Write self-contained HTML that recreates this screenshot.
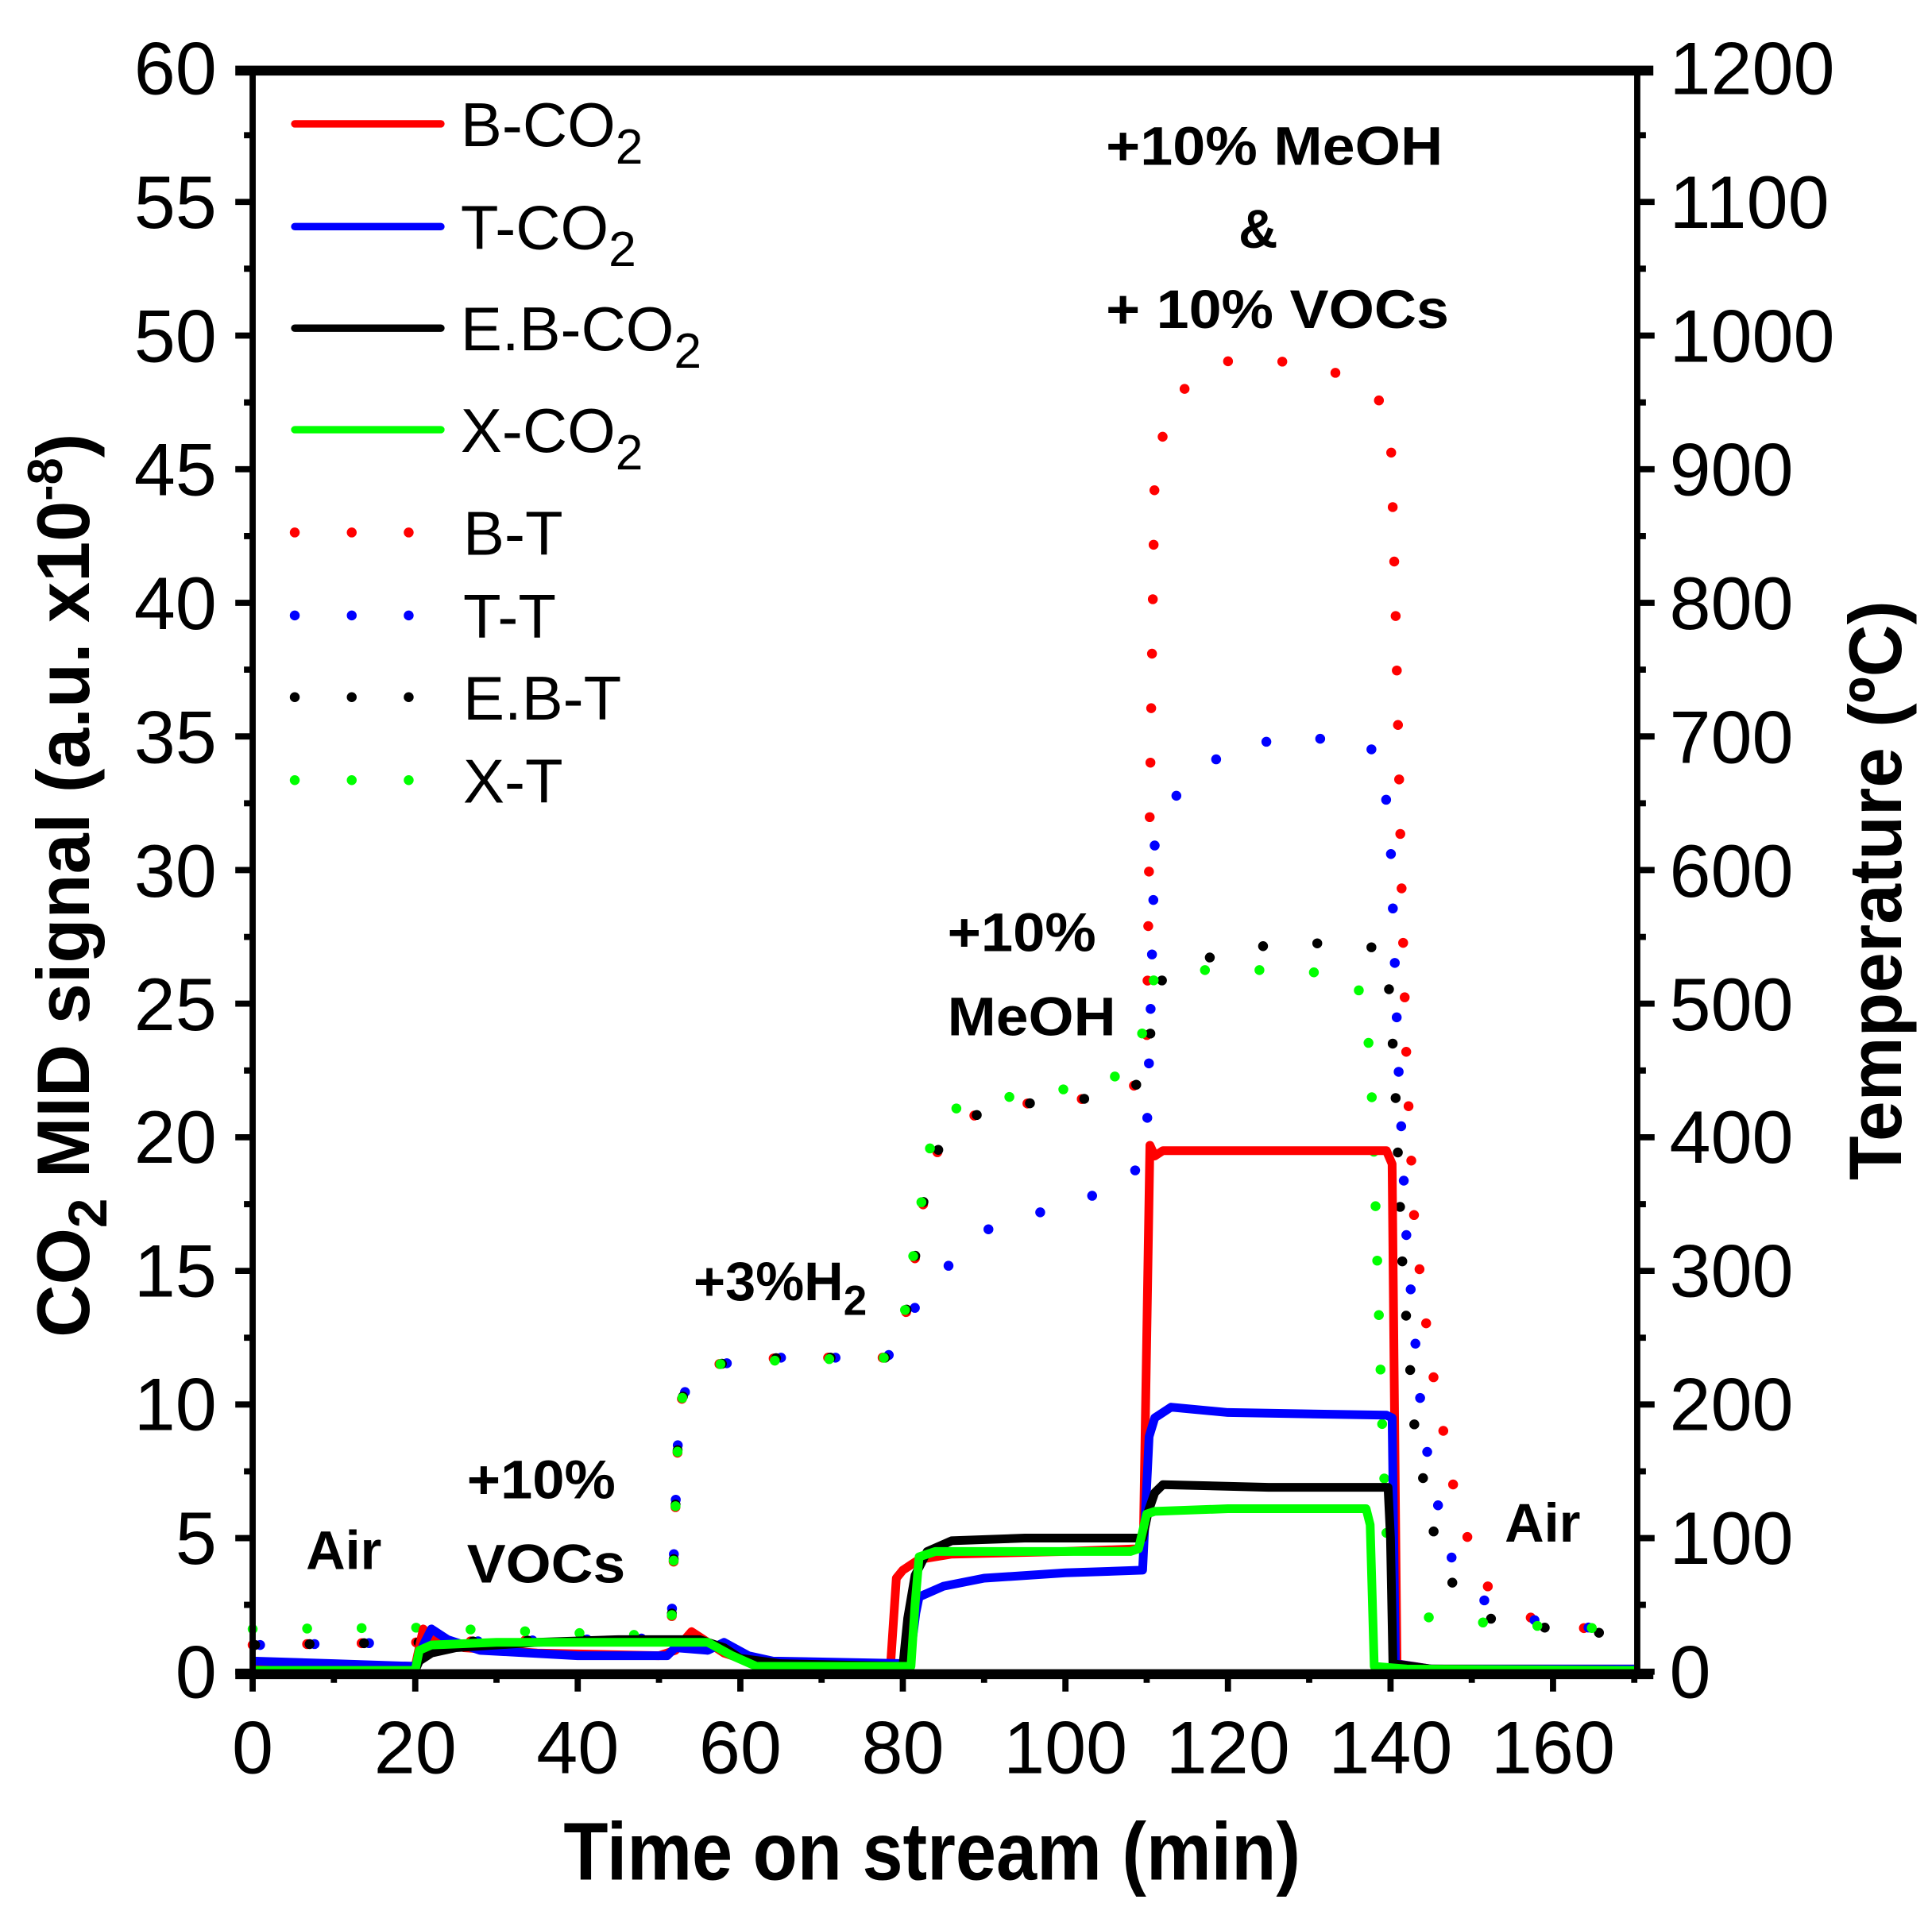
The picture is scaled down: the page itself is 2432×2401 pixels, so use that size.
<!DOCTYPE html>
<html><head><meta charset="utf-8"><style>html,body{margin:0;padding:0;background:#fff}svg{display:block}</style></head>
<body>
<svg xmlns="http://www.w3.org/2000/svg" width="2432" height="2401" viewBox="0 0 1560 1540" preserveAspectRatio="none" font-family="Liberation Sans, Arial, sans-serif">
<rect width="1560" height="1540" fill="#fff"/>
<!-- temperature dotted -->
<g fill="none" stroke-width="8" stroke-linecap="round" stroke-linejoin="round" stroke-dasharray="0 44">
<path stroke="#ff0000" d="M204,1328.4 L335.3,1326.3 L532.1,1323 L542,1317.6 L545.3,1220.5 L548.5,1134.2 L558.4,1112.6 L578.1,1101.8 L630.6,1096.4 L715.9,1096.4 L729,1074.8 L735.6,1037 L742.1,993.9 L748.7,950.7 L761.8,918.3 L781.5,902.1 L827.4,891.3 L893.1,885.9 L919.3,875.2 L925.9,842.8 L929.2,594.6 L932.4,378.7 L945.6,324.8 L978.4,292.4 L1024.3,290.2 L1070.3,297.8 L1109.6,314 L1122.8,346.3 L1126.7,486.6 L1131.3,702.5 L1135.9,864.4 L1142.4,993.9 L1155.6,1101.8 L1175.3,1209.7 L1194.9,1274.5 L1221.2,1301.4 L1254,1312.2 L1306.5,1317.6"/>
<path stroke="#0000ff" d="M210,1328.4 L335.3,1326.3 L532.1,1323 L542,1317.6 L545.3,1220.5 L548.5,1134.2 L558.4,1112.6 L578.1,1101.8 L630.6,1096.4 L715.9,1096.4 L729,1080.2 L742.1,1047.8 L761.8,1026.2 L794.6,993.9 L860.3,972.3 L912.8,956.1 L925.9,918.3 L929.2,810.4 L932.4,680.9 L952.1,637.7 L991.5,605.4 L1044,594.6 L1103.1,599.9 L1116.2,616 L1122.8,680.9 L1129.3,864.4 L1135.9,1004.7 L1149,1155.7 L1168.7,1252.9 L1194.9,1290.6 L1227.8,1306.8 L1306.5,1317.6"/>
<path stroke="#000000" d="M206,1328.4 L335.3,1326.3 L532.1,1323 L542,1317.6 L545.3,1220.5 L548.5,1134.2 L558.4,1112.6 L578.1,1101.8 L630.6,1096.4 L715.9,1096.4 L729,1074.8 L735.6,1037 L742.1,993.9 L748.7,950.7 L761.8,918.3 L781.5,902.1 L827.4,891.3 L893.1,885.9 L919.3,875.2 L925.9,859 L930.5,821.2 L939,788.8 L978.4,772.6 L1030.9,761.8 L1089.9,761.8 L1119.4,767.2 L1126,864.4 L1132.6,1026.2 L1142.4,1155.7 L1155.6,1231.3 L1175.3,1285.2 L1201.5,1306.8 L1254,1315.5 L1306.5,1319.8"/>
<path stroke="#00ff00" d="M204,1315.5 L335.3,1314.4 L532.1,1320.9 L542,1317.6 L545.3,1220.5 L548.5,1134.2 L558.4,1112.6 L578.1,1101.8 L630.6,1098.5 L715.9,1096.4 L729,1069.4 L735.6,1026.2 L742.1,983.1 L748.7,939.9 L755.3,902.1 L781.5,891.3 L827.4,883.8 L893.1,875.2 L919.3,853.6 L925.9,810.4 L932.4,788.8 L965.3,783.4 L1024.3,783.4 L1089.9,786.7 L1103.1,810.4 L1108.3,896.7 L1112.3,1026.2 L1116.2,1155.7 L1120.1,1252.9 L1126,1296 L1155.6,1306.8 L1221.2,1312.2 L1306.5,1315.5"/>
</g>
<!-- CO2 solid -->
<g transform="translate(204,1350) scale(6.5625,-21.58)" fill="none" stroke-width="11" stroke-linejoin="round">
<polyline vector-effect="non-scaling-stroke" stroke="#ff0000" points="0,0.3 20,0.2 21,1.6 22,1.2 26,0.9 35,0.7 50,0.6 52,0.8 54,1.5 56,1.1 58,0.7 62,0.3 78.5,0.3 79.2,3.5 80,3.8 82,4.2 86,4.4 100,4.5 109,4.6 109.6,5.0 110.4,19.7 111,19.3 112,19.5 139.5,19.5 140.2,19.0 140.8,0.3 145,0.1 170,0.1"/>
<polyline vector-effect="non-scaling-stroke" stroke="#0000ff" points="0,0.4 10,0.3 20,0.2 21,1.0 22,1.6 24,1.2 28,0.8 40,0.6 51,0.6 52,0.9 56,0.8 58,1.1 61,0.6 64,0.4 80.8,0.3 81.6,2.2 82,2.8 85,3.2 90,3.5 100,3.7 109.5,3.8 110.3,8.8 111,9.5 113,9.9 120,9.7 139.5,9.6 140.2,9.5 140.6,0.3 145,0.1 170,0.1"/>
<polyline vector-effect="non-scaling-stroke" stroke="#000000" points="0,0.05 20,0.05 20.5,0.4 22,0.7 25,0.9 35,1.1 45,1.2 55,1.2 58,0.9 60,0.5 65,0.3 80,0.2 80.6,2.0 81.5,3.6 83,4.5 86,4.9 95,5.0 109.5,5.0 110.2,6.0 111,6.7 112,7.0 125,6.9 139.7,6.9 140,5.0 140.3,0.3 145,0.1 170,0.05"/>
<polyline vector-effect="non-scaling-stroke" stroke="#00ff00" points="0,0.05 20,0.05 20.5,0.8 22,1.0 30,1.1 50,1.1 56,1.1 59,0.6 62,0.2 81,0.2 81.5,2.5 82,4.3 84,4.5 100,4.5 108,4.5 109,4.6 110,5.9 111,6.0 120,6.1 137,6.1 137.5,5.5 138,0.2 142,0.1 170,0.05"/>
</g>
<!-- axes -->
<g stroke="#000" fill="none">
<line x1="190" y1="57" x2="1335" y2="57" stroke-width="8"/>
<line x1="190" y1="1352" x2="1335" y2="1352" stroke-width="8"/>
<line x1="204" y1="55" x2="204" y2="1355" stroke-width="5"/>
<line x1="1322" y1="55" x2="1322" y2="1355" stroke-width="5"/>
</g>
<g stroke="#000" stroke-width="5" fill="none">
<path d="M204,1352V1366 M335.3,1352V1366 M466.5,1352V1366 M597.8,1352V1366 M729,1352V1366 M860.3,1352V1366 M991.5,1352V1366 M1122.8,1352V1366 M1254,1352V1366 M269.6,1352V1359 M400.9,1352V1359 M532.1,1352V1359 M663.4,1352V1359 M794.6,1352V1359 M925.9,1352V1359 M1057.1,1352V1359 M1188.4,1352V1359 M1319.6,1352V1359"/>
<path d="M190,1350H204 M190,1242.1H204 M190,1134.2H204 M190,1026.3H204 M190,918.4H204 M190,810.5H204 M190,702.6H204 M190,594.7H204 M190,486.8H204 M190,378.9H204 M190,271H204 M190,163.1H204 M197,1296H204 M197,1188.2H204 M197,1080.3H204 M197,972.4H204 M197,864.5H204 M197,756.6H204 M197,648.7H204 M197,540.8H204 M197,432.9H204 M197,325H204 M197,217H204 M197,109.2H204"/>
<path d="M1322,1350H1336 M1322,1242.1H1336 M1322,1134.2H1336 M1322,1026.3H1336 M1322,918.4H1336 M1322,810.5H1336 M1322,702.6H1336 M1322,594.7H1336 M1322,486.8H1336 M1322,378.9H1336 M1322,271H1336 M1322,163.1H1336 M1322,1296H1329 M1322,1188.2H1329 M1322,1080.3H1329 M1322,972.4H1329 M1322,864.5H1329 M1322,756.6H1329 M1322,648.7H1329 M1322,540.8H1329 M1322,432.9H1329 M1322,325H1329 M1322,217H1329 M1322,109.2H1329"/>
</g>
<g font-size="60" fill="#000" text-anchor="end">
<text x="175" y="1371">0</text><text x="175" y="1263">5</text><text x="175" y="1155">10</text><text x="175" y="1047">15</text><text x="175" y="939">20</text><text x="175" y="832">25</text><text x="175" y="724">30</text><text x="175" y="616">35</text><text x="175" y="508">40</text><text x="175" y="400">45</text><text x="175" y="292">50</text><text x="175" y="184">55</text><text x="175" y="76">60</text>
</g>
<g font-size="60" fill="#000">
<text x="1348" y="1371">0</text><text x="1348" y="1263">100</text><text x="1348" y="1155">200</text><text x="1348" y="1047">300</text><text x="1348" y="939">400</text><text x="1348" y="832">500</text><text x="1348" y="724">600</text><text x="1348" y="616">700</text><text x="1348" y="508">800</text><text x="1348" y="400">900</text><text x="1348" y="292">1000</text><text x="1348" y="184">1100</text><text x="1348" y="76">1200</text>
</g>
<g font-size="60" fill="#000" text-anchor="middle">
<text x="204" y="1432">0</text><text x="335.3" y="1432">20</text><text x="466.5" y="1432">40</text><text x="597.8" y="1432">60</text><text x="729" y="1432">80</text><text x="860.3" y="1432">100</text><text x="991.5" y="1432">120</text><text x="1122.8" y="1432">140</text><text x="1254" y="1432">160</text>
</g>
<!-- legend -->
<g stroke-width="6" fill="none" stroke-linecap="round">
<line x1="238" y1="100" x2="356" y2="100" stroke="#ff0000"/>
<line x1="238" y1="183" x2="356" y2="183" stroke="#0000ff"/>
<line x1="238" y1="265" x2="356" y2="265" stroke="#000"/>
<line x1="238" y1="347" x2="356" y2="347" stroke="#00ff00"/>
<g stroke-dasharray="0 46" stroke-width="8">
<line x1="238" y1="430" x2="340" y2="430" stroke="#ff0000"/>
<line x1="238" y1="497" x2="340" y2="497" stroke="#0000ff"/>
<line x1="238" y1="563" x2="340" y2="563" stroke="#000"/>
<line x1="238" y1="630" x2="340" y2="630" stroke="#00ff00"/>
</g></g>
<g font-size="50" fill="#000">
<text x="372" y="118">B-CO<tspan font-size="40" dy="14">2</tspan></text>
<text x="372" y="201">T-CO<tspan font-size="40" dy="14">2</tspan></text>
<text x="372" y="283">E.B-CO<tspan font-size="40" dy="14">2</tspan></text>
<text x="372" y="365">X-CO<tspan font-size="40" dy="14">2</tspan></text>
<text x="374" y="448">B-T</text>
<text x="374" y="515">T-T</text>
<text x="374" y="581">E.B-T</text>
<text x="374" y="648">X-T</text>
</g>
<g font-size="44" font-weight="bold" fill="#000">
<text x="893" y="133" textLength="272" lengthAdjust="spacingAndGlyphs">+10% MeOH</text>
<text x="1000" y="200">&amp;</text>
<text x="893" y="265" textLength="277" lengthAdjust="spacingAndGlyphs">+ 10% VOCs</text>
<text x="765" y="768" textLength="120" lengthAdjust="spacingAndGlyphs">+10%</text>
<text x="765" y="836" textLength="136" lengthAdjust="spacingAndGlyphs">MeOH</text>
<text x="560" y="1050">+3%H<tspan font-size="34" dy="12">2</tspan></text>
<text x="377" y="1210" textLength="120" lengthAdjust="spacingAndGlyphs">+10%</text>
<text x="377" y="1278" textLength="128" lengthAdjust="spacingAndGlyphs">VOCs</text>
<text x="247" y="1267">Air</text>
<text x="1215" y="1245">Air</text>
</g>
<text x="455" y="1518" font-size="66" font-weight="bold" textLength="595" lengthAdjust="spacingAndGlyphs">Time on stream (min)</text>
<text transform="translate(72,1080) rotate(-90)" font-size="60" font-weight="bold" textLength="730" lengthAdjust="spacingAndGlyphs">CO<tspan font-size="44" dy="14">2</tspan><tspan dy="-14"> MID signal (a.u. x10</tspan><tspan font-size="40" dy="-22">-8</tspan><tspan dy="22">)</tspan></text>
<text transform="translate(1535,953) rotate(-90)" font-size="60" font-weight="bold" textLength="468" lengthAdjust="spacingAndGlyphs">Temperature (ºC)</text>
</svg>
</body></html>
